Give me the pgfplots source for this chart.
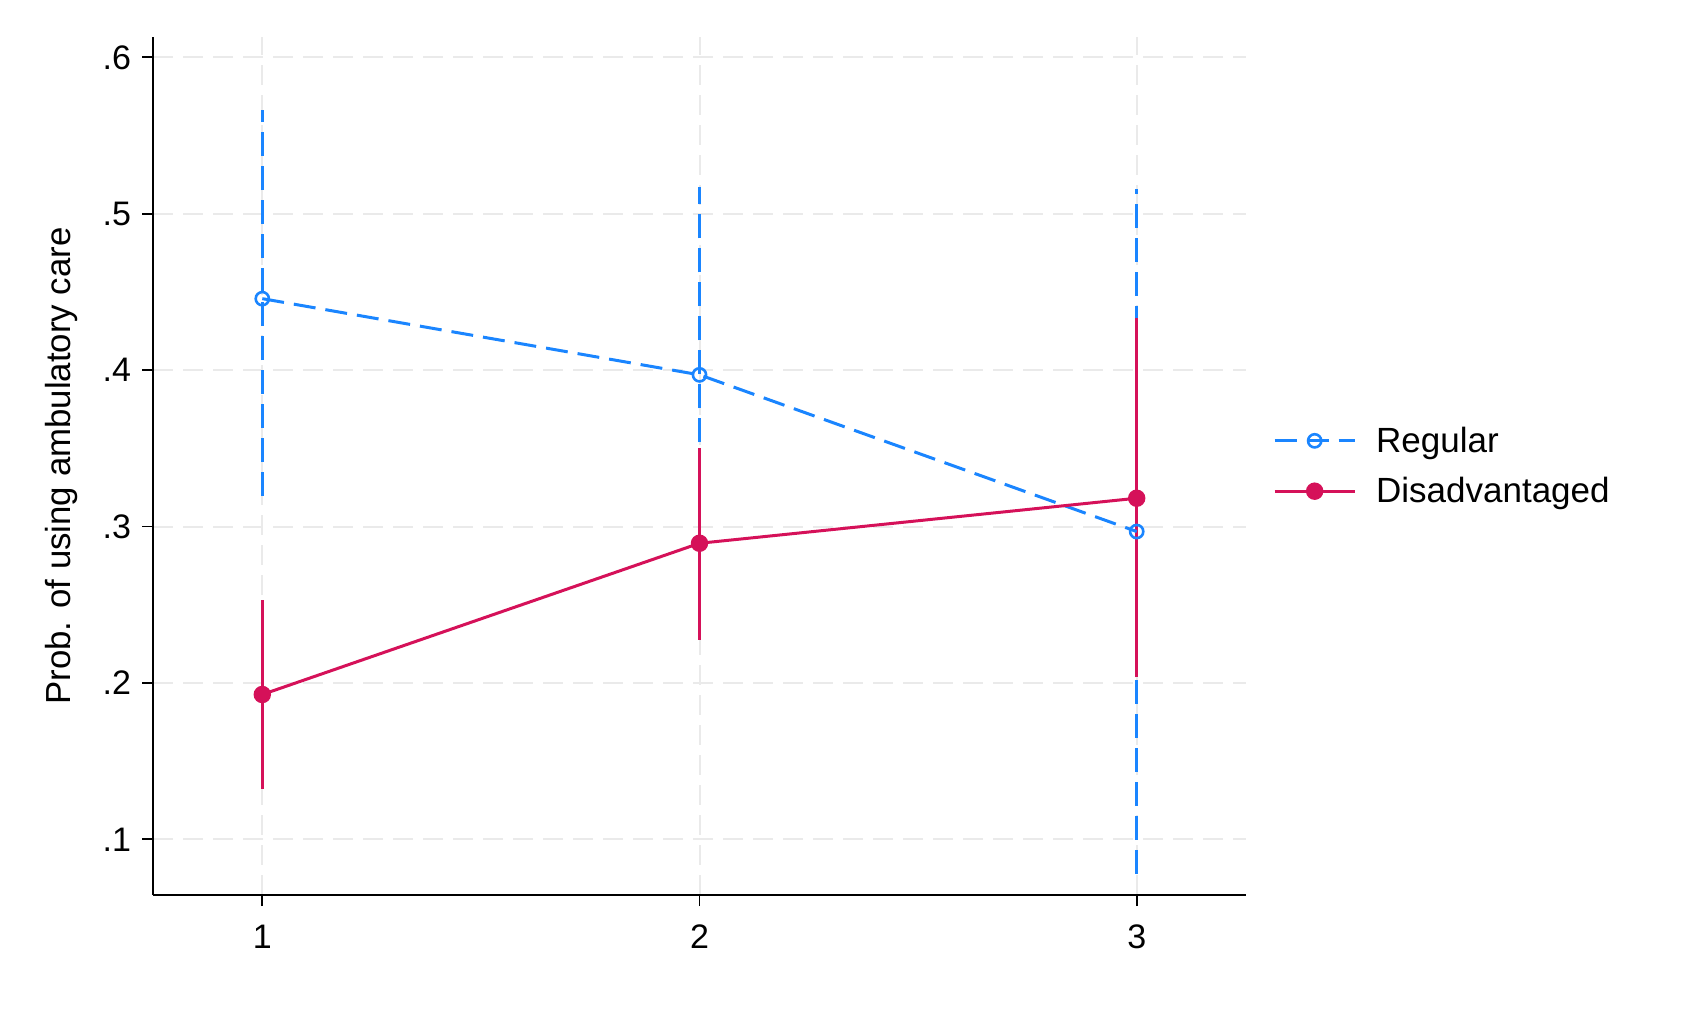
\documentclass[border=0pt]{standalone}
\usepackage{pgfplots}
\pgfplotsset{compat=1.18}
\usepackage{fontspec}
\setmainfont{Liberation Sans}
\definecolor{stcblue}{RGB}{26,133,255}
\definecolor{stcred}{RGB}{213,17,89}
\definecolor{gridgray}{RGB}{234,234,234}

\begin{document}
\begin{tikzpicture}
\useasboundingbox (0,0) rectangle (840.5pt,504.5pt);
\begin{axis}[
    at={(76.5pt,57pt)}, anchor=south west,
    width=546.5pt, height=429pt, scale only axis,
    xmin=0.75, xmax=3.25,
    ymin=0.0644, ymax=0.613,
    xtick={1,2,3},
    ytick={0.1,0.2,0.3,0.4,0.5,0.6},
    yticklabels={.1,.2,.3,.4,.5,.6},
    /pgf/number format/assume math mode=true,
    axis x line*=bottom, axis y line*=left,
    axis line style={line width=0.9pt, black, -},
    tick style={line width=0.9pt, black},
    tick align=outside,
    major tick length=5.5pt,
    ticklabel style={font=\fontsize{17}{20}\selectfont},
    xticklabel style={yshift=-6pt},
    yticklabel style={xshift=-2pt},
    grid=major,
    major grid style={gridgray, line width=1pt, dash pattern=on 10pt off 5pt},
    ylabel={Prob. of using ambulatory care},
    ylabel style={at={(axis description cs:-0.084,0.5)}, anchor=center, font=\fontsize{17.4}{20}\selectfont},
    unbounded coords=jump,
    legend style={at={(axis description cs:1.019,0.5)}, anchor=west, draw=none, fill=none,
        font=\fontsize{17.5}{20}\selectfont, row sep=7pt,
        nodes={inner xsep=6pt}},
    legend cell align=left,
    legend image code/.code={
        \draw[#1] (0pt,0pt) -- (40pt,0pt);
        \draw[#1, solid] plot coordinates {(20pt,0pt)};
        \path (44pt,0pt);
    },
    clip=false,
]
% confidence intervals
\addplot[stcblue, line width=1.5pt, dash pattern=on 12pt off 5pt, forget plot]
    coordinates {(1,0.3195) (1,0.5664) (1,nan) (2,0.3538) (2,0.517) (2,nan) (3,0.078) (3,0.5156)};
\addplot[stcred, line width=1.5pt, forget plot]
    coordinates {(1,0.1322) (1,0.2529) (1,nan) (2,0.2276) (2,0.3504) (2,nan) (3,0.2036) (3,0.4333)};
% estimates
\addplot[stcblue, line width=1.5pt, dash pattern=on 11pt off 5pt,
    mark=o, mark size=3.3pt, mark options={solid, line width=1.3pt, fill=white}]
    coordinates {(1,0.4457) (2,0.397) (3,0.2968)};
\addplot[stcred, line width=1.5pt, mark=*, mark size=3.6pt, mark options={solid}]
    coordinates {(1,0.1926) (2,0.2893) (3,0.3181)};
\legend{Regular, Disadvantaged}
\end{axis}
\end{tikzpicture}
\end{document}
